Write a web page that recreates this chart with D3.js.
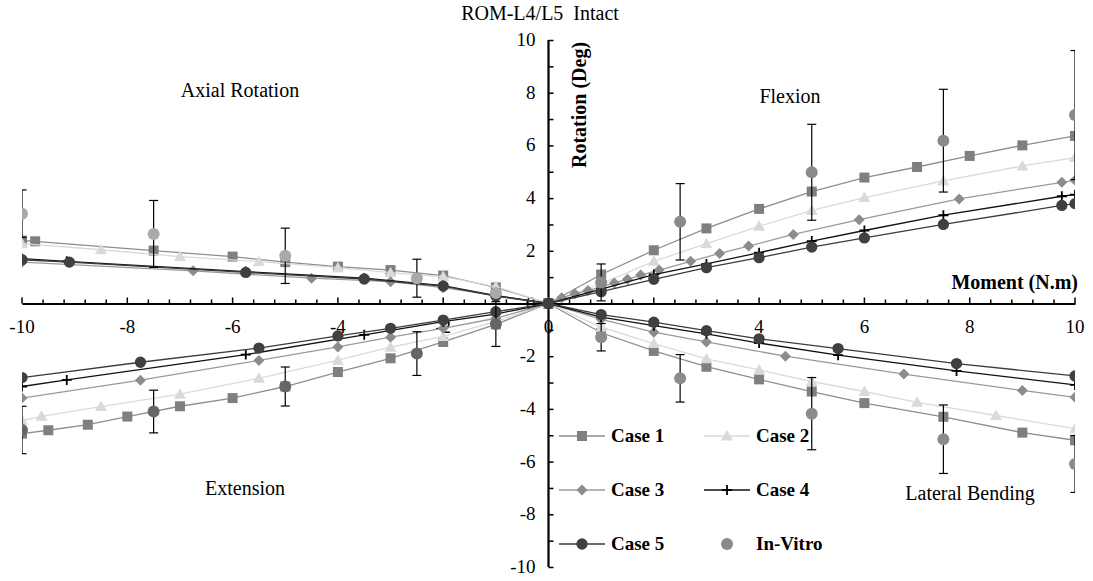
<!DOCTYPE html>
<html>
<head>
<meta charset="utf-8">
<script src="https://cdn.jsdelivr.net/npm/d3@7"></script>
<style>
  html, body { margin: 0; padding: 0; background: #fff; }
  svg { display: block; font-family: "Liberation Serif", "Times New Roman", serif; }
</style>
</head>
<body>
<svg id="chart" width="1093" height="581"></svg>
<script>
// ---- Data (moment N.m, rotation deg) ----
const xTicks = [-10, -8, -6, -4, -2, 0, 2, 4, 6, 8, 10];
const yTicks = [-10, -8, -6, -4, -2, 0, 2, 4, 6, 8, 10];
const seriesNames = ["Case 1", "Case 2", "Case 3", "Case 4", "Case 5", "In-Vitro"];
const quadrantLabels = ["Axial Rotation", "Flexion", "Extension", "Lateral Bending"];

// Flexion (+M, +rot)
const case1Flexion = [[0,0],[1,1.1],[2,2.02],[3,2.85],[4,3.59],[5,4.25],[6,4.78],[7,5.18],[8,5.6],[9,6.0],[10,6.36]];
const case2Flexion = [[0,0],[1,0.75],[2,1.6],[3,2.27],[4,2.93],[5,3.53],[6,4.02],[7.5,4.65],[9,5.22],[10,5.54]];
const case3Flexion = [[0,0],[0.25,0.22],[0.5,0.37],[0.75,0.49],[1,0.63],[1.25,0.78],[1.5,0.92],[1.75,1.08],[2.1,1.27],[2.7,1.6],[3.25,1.9],[3.8,2.18],[4.65,2.62],[5.9,3.18],[7.8,3.97],[9.75,4.6],[10,4.68]];
const case4Flexion = [[0,0],[1,0.55],[2,1.1],[3,1.5],[4,1.93],[5,2.37],[6,2.77],[7.5,3.35],[9.75,4.07],[10,4.13]];
const case5Flexion = [[0,0],[1,0.45],[2,0.92],[3,1.36],[4,1.74],[5,2.14],[6,2.49],[7.5,3.0],[9.75,3.72],[10,3.79]];
const inVitroFlexion = [[1,0.8,0.7],[2.5,3.1,1.45],[5,4.98,1.82],[7.5,6.18,1.95],[10,7.15,2.45]];

// Lateral Bending (+M, -rot)
const case1Lateral = [[0,0],[1,-1.11],[2,-1.8],[3,-2.4],[4,-2.88],[5,-3.34],[6,-3.78],[7.5,-4.3],[9,-4.9],[10,-5.19]];
const case2Lateral = [[0,0],[1,-0.9],[2,-1.52],[3,-2.1],[4,-2.52],[5,-2.96],[6,-3.34],[7,-3.75],[8.5,-4.25],[10,-4.75]];
const case3Lateral = [[0,0],[1,-0.6],[2,-1.09],[3,-1.46],[4.5,-2.0],[6.75,-2.68],[9,-3.3],[10,-3.56]];
const case4Lateral = [[0,0],[1,-0.52],[2,-0.84],[3,-1.15],[4,-1.5],[5.5,-1.96],[7.75,-2.56],[10,-3.09]];
const case5Lateral = [[0,0],[1,-0.42],[2,-0.71],[3,-1.03],[4,-1.34],[5.5,-1.71],[7.75,-2.28],[10,-2.75]];
const inVitroLateral = [[1,-1.28,0.52],[2.5,-2.84,0.9],[5,-4.18,1.37],[7.5,-5.15,1.3],[10,-6.09,1.08]];

// Extension (-M, -rot)
const case1Extension = [[0,0],[-1,-0.79],[-2,-1.46],[-3,-2.08],[-4,-2.6],[-5,-3.15],[-6,-3.59],[-7,-3.9],[-8,-4.29],[-8.75,-4.6],[-9.5,-4.81],[-10,-4.94]];
const case2Extension = [[0,0],[-1,-0.69],[-2,-1.25],[-3,-1.66],[-4,-2.15],[-5.5,-2.84],[-7,-3.44],[-8.5,-3.91],[-9.63,-4.28],[-10,-4.44]];
const case3Extension = [[0,0],[-1,-0.56],[-2,-0.94],[-3,-1.28],[-4,-1.65],[-5.5,-2.16],[-7.75,-2.91],[-10,-3.59]];
const case4Extension = [[0,0],[-1,-0.4],[-2,-0.69],[-3.5,-1.19],[-5.75,-1.94],[-9.15,-2.9],[-10,-3.15]];
const case5Extension = [[0,0],[-1,-0.31],[-2,-0.63],[-3,-0.94],[-4,-1.23],[-5.5,-1.69],[-7.75,-2.23],[-10,-2.81]];
const inVitroExtension = [[-1,-0.78,0.85],[-2.5,-1.9,0.83],[-5,-3.15,0.74],[-7.5,-4.1,0.81],[-10,-4.8,0.9]];

// Axial Rotation (-M, +rot)
const case1Axial = [[0,0],[-1,0.61],[-2,1.06],[-3,1.27],[-4,1.4],[-5,1.57],[-6,1.78],[-7.5,2.01],[-9.75,2.36],[-10,2.39]];
const case2Axial = [[0,0],[-1,0.64],[-2,1.02],[-3,1.17],[-4,1.36],[-5.5,1.59],[-7,1.78],[-8.5,2.04],[-10,2.27]];
const case3Axial = [[0,0],[-1,0.3],[-2,0.6],[-3,0.83],[-4.5,0.96],[-6.75,1.24],[-10,1.57]];
const case4Axial = [[0,0],[-1,0.3],[-2,0.68],[-3.5,0.96],[-5.75,1.21],[-9.15,1.6],[-10,1.7]];
const case5Axial = [[0,0],[-1,0.28],[-2,0.66],[-3.5,0.93],[-5.75,1.18],[-9.1,1.57],[-10,1.66]];
const inVitroAxial = [[-1,0.4,0.15],[-2.5,0.96,0.72],[-5,1.81,1.05],[-7.5,2.64,1.27],[-10,3.41,0.9]];

// ---- Layout ----
const svg = d3.select("#chart");
const x = d3.scaleLinear().domain([-10, 10]).range([22, 1075]);
const y = d3.scaleLinear().domain([-10, 10]).range([567, 40]);

const styles = [
  { line: "#8e8e8e", fill: "#7f7f7f", sym: "square" },
  { line: "#dadada", fill: "#d9d9d9", sym: "triangle" },
  { line: "#9a9a9a", fill: "#8c8c8c", sym: "diamond" },
  { line: "#111111", fill: "#000000", sym: "plus" },
  { line: "#3c3c3c", fill: "#404040", sym: "circle" }
];
const inVitroColor = { flex: "#8a8a8a", lat: "#8c8c8c", ext: "#666666", ax: "#a9a9a9" };

const defs = svg.append("defs");
defs.append("clipPath").attr("id", "plotclip").append("rect")
  .attr("x", x(-10)).attr("y", y(10) - 5).attr("width", x(10) - x(-10)).attr("height", y(-10) - y(10) + 10);

function symbolPath(sym) {
  if (sym === "square") return "M-5,-5H5V5H-5Z";
  if (sym === "triangle") return "M0,-6L6,4.5H-6Z";
  if (sym === "diamond") return "M0,-5.5L5.5,0L0,5.5L-5.5,0Z";
  if (sym === "circle") return d3.symbol(d3.symbolCircle, 100)();
  return "M-5,0H5M0,-5V5";
}

function drawMarker(g, sym, cx, cy, st) {
  const p = g.append("path").attr("d", symbolPath(sym)).attr("transform", `translate(${cx},${cy})`);
  if (sym === "plus") p.attr("fill", "none").attr("stroke", st.fill).attr("stroke-width", 1.8);
  else p.attr("fill", st.fill).attr("stroke", "none");
}

// ---- Axes ----
const axisG = svg.append("g");
const xAxis = d3.axisBottom(x).tickValues([]).tickSize(0).tickFormat("");
axisG.append("g").attr("transform", `translate(0,${y(0)})`).call(xAxis)
  .call(g => g.select(".domain").attr("stroke", "#000").attr("stroke-width", 2.2));
axisG.selectAll(".xtick").data(d3.range(0, 51).map(i => -10 + i * 0.4)).enter().append("line")
  .attr("x1", d => x(d)).attr("x2", d => x(d))
  .attr("y1", y(0)).attr("y2", d => (Math.abs(Math.round(d) - d) < 1e-6 && Math.round(d) % 2 === 0) ? y(0) - 6 : y(0) - 4)
  .attr("stroke", "#000").attr("stroke-width", 1.5);
const yAxis = d3.axisRight(y).tickValues(d3.range(-10, 11, 1)).tickSize(5).tickFormat("");
axisG.append("g").attr("transform", `translate(${x(0)},0)`).call(yAxis)
  .call(g => g.select(".domain").attr("stroke", "#000").attr("stroke-width", 2.2).attr("d", `M0,${y(10)}V${y(-10)}`))
  .call(g => g.selectAll(".tick line").attr("stroke", "#000").attr("stroke-width", 1.5));

axisG.selectAll(".xlab").data(xTicks).enter().append("text")
  .attr("x", d => x(d)).attr("y", y(0) + 29)
  .attr("text-anchor", "middle").attr("font-size", 19).attr("fill", "#000")
  .text(d => d);
axisG.selectAll(".ylab").data(yTicks).enter().append("text")
  .attr("x", x(0) - 13).attr("y", d => y(d) + 6)
  .attr("text-anchor", "end").attr("font-size", 19).attr("fill", "#000")
  .text(d => d);

// ---- Series ----
const plot = svg.append("g").attr("clip-path", "url(#plotclip)");
const caseData = [
  [case1Flexion, case1Lateral, case1Extension, case1Axial],
  [case2Flexion, case2Lateral, case2Extension, case2Axial],
  [case3Flexion, case3Lateral, case3Extension, case3Axial],
  [case4Flexion, case4Lateral, case4Extension, case4Axial],
  [case5Flexion, case5Lateral, case5Extension, case5Axial]
];
const line = d3.line().x(d => x(d[0])).y(d => y(d[1]));

caseData.forEach((quads, i) => {
  const st = styles[i];
  const g = plot.append("g");
  quads.forEach(arr => {
    g.append("path").datum(arr).attr("d", line)
      .attr("fill", "none").attr("stroke", st.line).attr("stroke-width", 1.3);
  });
  quads.forEach(arr => {
    arr.forEach(d => drawMarker(g, st.sym, x(d[0]), y(d[1]), st));
  });
});

const ivSets = [
  [inVitroFlexion, inVitroColor.flex],
  [inVitroLateral, inVitroColor.lat],
  [inVitroExtension, inVitroColor.ext],
  [inVitroAxial, inVitroColor.ax]
];
const ivG = plot.append("g");
ivSets.forEach(([arr, col]) => {
  arr.forEach(d => {
    const cx = x(d[0]), top = y(d[1] + d[2]), bot = y(d[1] - d[2]);
    ivG.append("line").attr("x1", cx).attr("x2", cx).attr("y1", top).attr("y2", bot)
      .attr("stroke", "#000").attr("stroke-width", 1.2);
    [top, bot].forEach(yy => ivG.append("line").attr("x1", cx - 4.5).attr("x2", cx + 4.5)
      .attr("y1", yy).attr("y2", yy).attr("stroke", "#000").attr("stroke-width", 1.2));
  });
  arr.forEach(d => {
    ivG.append("circle").attr("cx", x(d[0])).attr("cy", y(d[1])).attr("r", 6).attr("fill", col);
  });
});

// ---- Texts ----
svg.append("text").attr("x", 540).attr("y", 20).attr("text-anchor", "middle")
  .attr("font-size", 20).style("white-space", "pre").text("ROM-L4/L5  Intact");
svg.append("text").attr("transform", `translate(${x(0) + 37},${105}) rotate(-90)`)
  .attr("text-anchor", "middle").attr("font-size", 20).attr("font-weight", "bold").text("Rotation (Deg)");
svg.append("text").attr("x", x(10) + 3).attr("y", 289).attr("text-anchor", "end")
  .attr("font-size", 20).attr("font-weight", "bold").text("Moment (N.m)");

const qPos = [[240, 97], [790, 103], [245, 495], [970, 500]];
quadrantLabels.forEach((t, i) => {
  svg.append("text").attr("x", qPos[i][0]).attr("y", qPos[i][1]).attr("text-anchor", "middle")
    .attr("font-size", 20).text(t);
});

// ---- Legend ----
const legend = svg.append("g");
const legPos = [[582, 436], [727, 436], [582, 490], [727, 490], [582, 544], [727, 544]];
seriesNames.forEach((name, i) => {
  const [mx, my] = legPos[i];
  const lg = legend.append("g");
  if (i < 5) {
    const st = styles[i];
    lg.append("line").attr("x1", mx - 23).attr("x2", mx + 23).attr("y1", my).attr("y2", my)
      .attr("stroke", st.line).attr("stroke-width", 1.3);
    drawMarker(lg, st.sym, mx, my, st);
  } else {
    lg.append("circle").attr("cx", mx).attr("cy", my).attr("r", 6).attr("fill", inVitroColor.flex);
  }
  lg.append("text").attr("x", mx + 29).attr("y", my + 6).attr("font-size", 19)
    .attr("font-weight", "bold").text(name);
});
</script>
</body>
</html>
